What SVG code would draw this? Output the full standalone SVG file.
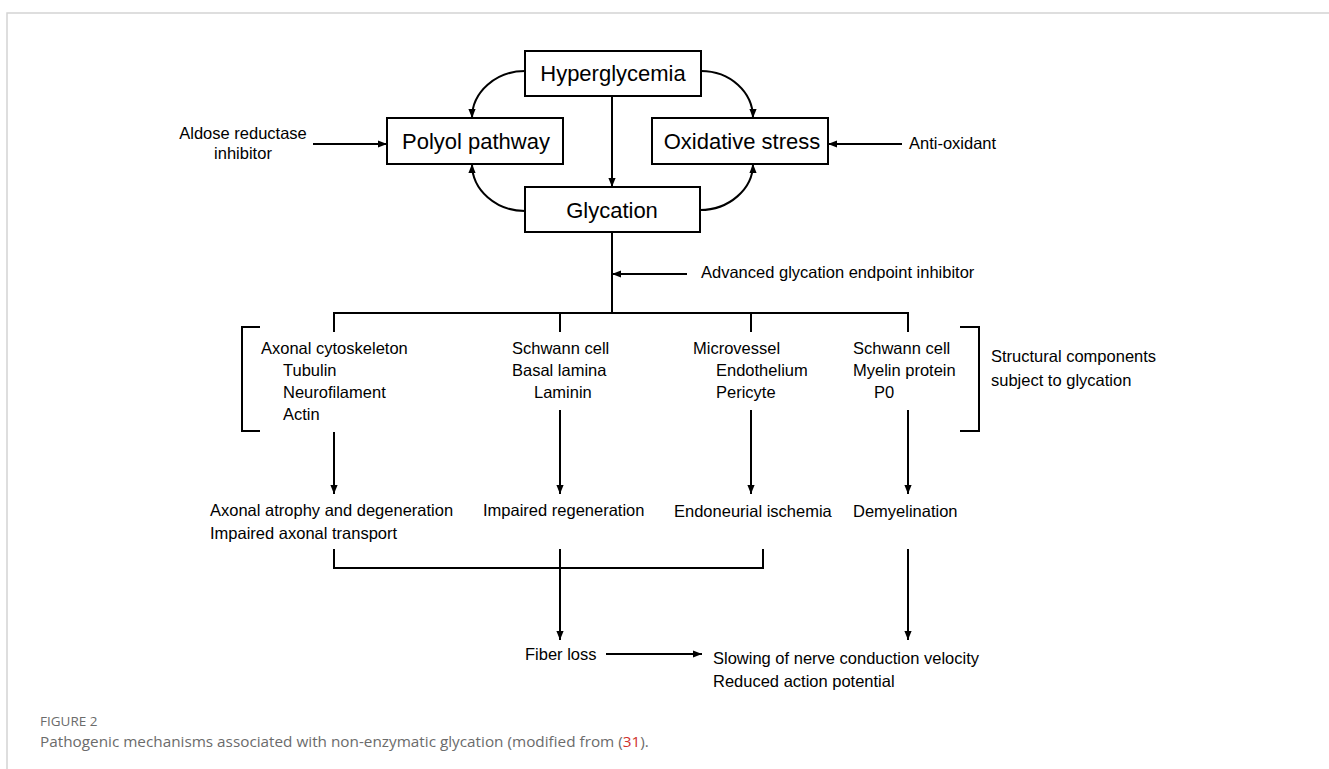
<svg xmlns="http://www.w3.org/2000/svg" width="1329" height="769" viewBox="0 0 1329 769">
<style>
.box{fill:#fff;stroke:#000;stroke-width:2}
.big{font-family:"Liberation Sans",Arial,sans-serif;font-size:22px;fill:#000;text-anchor:middle}
.t{font-family:"Liberation Sans",Arial,sans-serif;font-size:16.5px;fill:#000}
.ln{fill:none;stroke:#000;stroke-width:2}
.frame{fill:none;stroke:#d4d4d4;stroke-width:1.5}
.cap1{font-family:"Open Sans","Liberation Sans",sans-serif;font-size:13.5px;fill:#6b6b6b}
.cap2{font-family:"Open Sans","Liberation Sans",sans-serif;font-size:15.3px;fill:#6b6b6b}
</style>
<defs>
<marker id="ah" viewBox="0 0 10 8" refX="10" refY="4" markerWidth="9" markerHeight="7.2" markerUnits="userSpaceOnUse" orient="auto">
<path d="M0,0 L10,4 L0,8 Z" fill="#000"/>
</marker>
</defs>
<rect width="1329" height="769" fill="#fff"/>
<path class="frame" d="M7,769 V13 H1329"/>

<g id="hyperglycemia"><rect class="box" x="525" y="51" width="176" height="45"/><text class="big" x="613" y="81">Hyperglycemia</text></g>
<g id="polyol"><rect class="box" x="387" y="118" width="176" height="46"/><text class="big" x="476" y="149">Polyol pathway</text></g>
<g id="oxidative"><rect class="box" x="652" y="118" width="176" height="46"/><text class="big" x="742" y="149">Oxidative stress</text></g>
<g id="glycation"><rect class="box" x="525" y="187" width="175" height="45"/><text class="big" x="612" y="218">Glycation</text></g>

<g id="aldose"><text class="t" x="243" y="139" text-anchor="middle">Aldose reductase</text><text class="t" x="243" y="159" text-anchor="middle">inhibitor</text></g>
<g id="antioxidant"><text class="t" x="909" y="149">Anti-oxidant</text></g>
<g id="age-inhibitor"><text class="t" x="701" y="278">Advanced glycation endpoint inhibitor</text></g>

<g id="col-axonal"><text class="t" x="261" y="354">Axonal cytoskeleton</text><text class="t" x="283" y="376">Tubulin</text><text class="t" x="283" y="398">Neurofilament</text><text class="t" x="283" y="420">Actin</text></g>
<g id="col-schwann1"><text class="t" x="512" y="354">Schwann cell</text><text class="t" x="512" y="376">Basal lamina</text><text class="t" x="534" y="398">Laminin</text></g>
<g id="col-microvessel"><text class="t" x="693" y="354">Microvessel</text><text class="t" x="716" y="376">Endothelium</text><text class="t" x="716" y="398">Pericyte</text></g>
<g id="col-schwann2"><text class="t" x="853" y="354">Schwann cell</text><text class="t" x="853" y="376">Myelin protein</text><text class="t" x="874" y="398">P0</text></g>
<g id="structural"><text class="t" x="991" y="362">Structural components</text><text class="t" x="991" y="386">subject to glycation</text></g>

<g id="out-axonal"><text class="t" x="210" y="516">Axonal atrophy and degeneration</text><text class="t" x="210" y="539">Impaired axonal transport</text></g>
<g id="out-regeneration"><text class="t" x="483" y="516">Impaired regeneration</text></g>
<g id="out-ischemia"><text class="t" x="674" y="517">Endoneurial ischemia</text></g>
<g id="out-demyelination"><text class="t" x="853" y="517">Demyelination</text></g>
<g id="fiber-loss"><text class="t" x="525" y="660">Fiber loss</text></g>
<g id="slowing"><text class="t" x="713" y="664">Slowing of nerve conduction velocity</text><text class="t" x="713" y="687">Reduced action potential</text></g>

<g id="connectors">
<path class="ln" d="M612,96 V187" marker-end="url(#ah)"/>
<path class="ln" d="M525,71 C496,71 472,92 472,118" marker-end="url(#ah)"/>
<path class="ln" d="M525,211 C496,211 472,190 472,164" marker-end="url(#ah)"/>
<path class="ln" d="M701,71 C730,71 753,92 753,118" marker-end="url(#ah)"/>
<path class="ln" d="M700,210 C729,210 753,189 753,164" marker-end="url(#ah)"/>
<path class="ln" d="M313,144 H387" marker-end="url(#ah)"/>
<path class="ln" d="M902,144 H828" marker-end="url(#ah)"/>
<path class="ln" d="M612,232 V313"/>
<path class="ln" d="M687,274 H612" marker-end="url(#ah)"/>
<path class="ln" d="M334,332 V313 H908 V332 M560,313 V332 M751,313 V332"/>
<path class="ln" d="M260,327 H242 V431 H260"/>
<path class="ln" d="M960,327 H979 V431 H960"/>
<path class="ln" d="M334,432 V494" marker-end="url(#ah)"/>
<path class="ln" d="M560,410 V494" marker-end="url(#ah)"/>
<path class="ln" d="M751,410 V494" marker-end="url(#ah)"/>
<path class="ln" d="M908,410 V494" marker-end="url(#ah)"/>
<path class="ln" d="M334,549 V568 H763 V549"/>
<path class="ln" d="M560,549 V640" marker-end="url(#ah)"/>
<path class="ln" d="M908,549 V640" marker-end="url(#ah)"/>
<path class="ln" d="M606,654 H702" marker-end="url(#ah)"/>
</g>

<g id="caption">
<text class="cap1" x="40" y="726">FIGURE 2</text>
<text class="cap2" x="40" y="747">Pathogenic mechanisms associated with non-enzymatic glycation (modified from (<tspan fill="#d0312d">31</tspan>).</text>
</g>
</svg>
